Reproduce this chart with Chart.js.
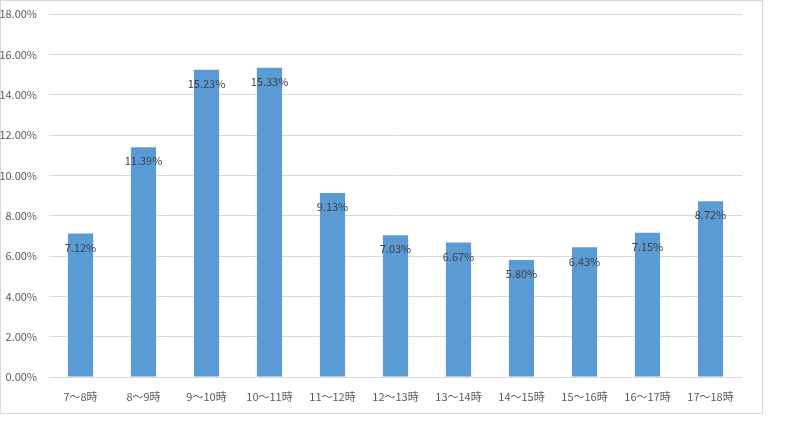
<!DOCTYPE html>
<html><head><meta charset="utf-8">
<script src="https://cdn.jsdelivr.net/npm/chart.js@4"></script>
<style>html,body{margin:0;padding:0;background:#fff}#w{width:802px;height:440px}</style>
</head><body><div id="w"><canvas id="c" width="802" height="440"></canvas></div>
<script>
const categories = ["7～8時","8～9時","9～10時","10～11時","11～12時","12～13時","13～14時","14～15時","15～16時","16～17時","17～18時"];
const shares = [7.12, 11.39, 15.23, 15.33, 9.13, 7.03, 6.67, 5.80, 6.43, 7.15, 8.72];
const yMin = 0, yMax = 18, yStep = 2;

const FONT = "'Noto Sans CJK JP', 'Liberation Sans', sans-serif";

const frame = {
  id: 'frame',
  beforeDraw(chart) {
    const ctx = chart.ctx;
    ctx.save();
    ctx.fillStyle = '#fff';
    ctx.fillRect(0, 0, chart.width, chart.height);
    ctx.strokeStyle = '#d9d9d9';
    ctx.lineWidth = 1;
    ctx.strokeRect(0.5, 0.5, 762, 413);
    ctx.restore();
  }
};
const valueLabels = {
  id: 'valueLabels',
  afterDatasetsDraw(chart) {
    const ctx = chart.ctx;
    const meta = chart.getDatasetMeta(0);
    ctx.save();
    ctx.font = '11px ' + FONT;
    ctx.fillStyle = '#404040';
    ctx.textAlign = 'center';
    ctx.textBaseline = 'middle';
    meta.data.forEach((bar, i) => {
      ctx.fillText(shares[i].toFixed(2) + '%', bar.x, bar.y + 14);
    });
    ctx.restore();
  }
};

new Chart(document.getElementById('c'), {
  type: 'bar',
  data: {
    labels: categories,
    datasets: [{
      data: shares,
      backgroundColor: '#5B9BD5',
      barPercentage: 0.8,
      categoryPercentage: 0.5
    }]
  },
  options: {
    responsive: false,
    animation: false,
    devicePixelRatio: 1,
    layout: { padding: { left: 0, top: 14, right: 60, bottom: 33 } },
    plugins: { legend: { display: false }, tooltip: { enabled: false } },
    scales: {
      x: {
        grid: { display: false },
        border: { display: false },
        ticks: { color: '#595959', font: { size: 11, family: FONT }, padding: 5, maxRotation: 0, autoSkip: false },
        afterFit(s) { s.height = 30; }
      },
      y: {
        min: yMin, max: yMax,
        grid: { color: '#d9d9d9', drawTicks: false },
        border: { display: false },
        ticks: { stepSize: yStep, color: '#595959', font: { size: 11, family: FONT }, padding: 12,
          callback: v => v.toFixed(2) + '%' },
        afterFit(s) { s.width = 49; s.paddingTop = 0; }
      }
    }
  },
  plugins: [frame, valueLabels]
});
</script></body></html>
